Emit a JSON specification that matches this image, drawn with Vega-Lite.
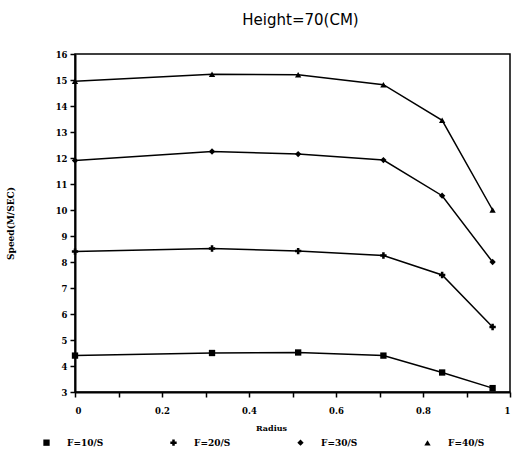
{
  "$schema": "https://vega.github.io/schema/vega-lite/v6.json",
  "autosize": {"type": "none"},
  "width": 435,
  "height": 338,
  "padding": {"left": 75, "top": 54, "right": 2, "bottom": 58},
  "background": "white",
  "title": {
    "text": "Height=70(CM)",
    "font": "DejaVu Sans",
    "fontSize": 15,
    "fontWeight": "normal",
    "color": "black",
    "anchor": "middle",
    "offset": 22,
    "dx": 8
  },
  "config": {
    "view": {"stroke": "black", "strokeWidth": 1.5},
    "axis": {
      "labelFont": "DejaVu Serif",
      "labelFontWeight": "bold",
      "labelFontSize": 8.5,
      "labelColor": "black",
      "titleFont": "DejaVu Serif",
      "titleFontWeight": "bold",
      "titleFontSize": 8,
      "titleColor": "black",
      "domainColor": "black",
      "domainWidth": 2,
      "tickColor": "black",
      "tickWidth": 1.5,
      "grid": false
    },
    "legend": {
      "labelFont": "DejaVu Serif",
      "labelFontWeight": "bold",
      "labelFontSize": 9,
      "labelColor": "black"
    }
  },
  "data": {
    "values": [
      {"series": "F=10/S", "radius": 0, "speed": 4.4},
      {"series": "F=10/S", "radius": 0.315, "speed": 4.5},
      {"series": "F=10/S", "radius": 0.513, "speed": 4.52},
      {"series": "F=10/S", "radius": 0.709, "speed": 4.4},
      {"series": "F=10/S", "radius": 0.844, "speed": 3.75},
      {"series": "F=10/S", "radius": 0.96, "speed": 3.15},
      {"series": "F=20/S", "radius": 0, "speed": 8.4},
      {"series": "F=20/S", "radius": 0.315, "speed": 8.52},
      {"series": "F=20/S", "radius": 0.513, "speed": 8.42},
      {"series": "F=20/S", "radius": 0.709, "speed": 8.25},
      {"series": "F=20/S", "radius": 0.844, "speed": 7.5},
      {"series": "F=20/S", "radius": 0.96, "speed": 5.5},
      {"series": "F=30/S", "radius": 0, "speed": 11.9},
      {"series": "F=30/S", "radius": 0.315, "speed": 12.25},
      {"series": "F=30/S", "radius": 0.513, "speed": 12.15},
      {"series": "F=30/S", "radius": 0.709, "speed": 11.92},
      {"series": "F=30/S", "radius": 0.844, "speed": 10.55},
      {"series": "F=30/S", "radius": 0.96, "speed": 8.0},
      {"series": "F=40/S", "radius": 0, "speed": 14.95},
      {"series": "F=40/S", "radius": 0.315, "speed": 15.22},
      {"series": "F=40/S", "radius": 0.513, "speed": 15.2},
      {"series": "F=40/S", "radius": 0.709, "speed": 14.82},
      {"series": "F=40/S", "radius": 0.844, "speed": 13.45},
      {"series": "F=40/S", "radius": 0.96, "speed": 10.0}
    ]
  },
  "encoding": {
    "x": {
      "field": "radius",
      "type": "quantitative",
      "scale": {"domain": [0, 1], "nice": false},
      "axis": {
        "title": "Radius",
        "values": [0, 0.1, 0.2, 0.3, 0.4, 0.5, 0.6, 0.7, 0.8, 0.9, 1],
        "labelExpr": "round(datum.value * 10) % 2 == 0 ? datum.value : ''",
        "tickSize": 5,
        "labelPadding": 9,
        "titlePadding": 10,
        "titleX": 196
      }
    },
    "y": {
      "field": "speed",
      "type": "quantitative",
      "scale": {"domain": [3, 16], "nice": false, "zero": false},
      "axis": {
        "title": "Speed(M/SEC)",
        "titleFontSize": 9,
        "values": [3, 4, 5, 6, 7, 8, 9, 10, 11, 12, 13, 14, 15, 16],
        "tickSize": 5,
        "labelPadding": 3,
        "titlePadding": 40
      }
    }
  },
  "layer": [
    {
      "mark": {"type": "line", "color": "black", "strokeWidth": 1.5},
      "encoding": {"detail": {"field": "series"}}
    },
    {
      "mark": {"type": "point", "filled": true, "color": "black", "size": 40, "opacity": 1},
      "encoding": {
        "shape": {
          "field": "series",
          "type": "nominal",
          "scale": {
            "domain": ["F=10/S", "F=20/S", "F=30/S", "F=40/S"],
            "range": ["square", "cross", "diamond", "triangle-up"]
          },
          "legend": {
            "title": null,
            "orient": "none",
            "direction": "horizontal",
            "columns": 4,
            "legendX": -33,
            "legendY": 384,
            "symbolFillColor": "black",
            "symbolStrokeColor": "black",
            "symbolSize": 40,
            "labelOffset": 16,
            "columnPadding": 63
          }
        }
      }
    }
  ]
}
